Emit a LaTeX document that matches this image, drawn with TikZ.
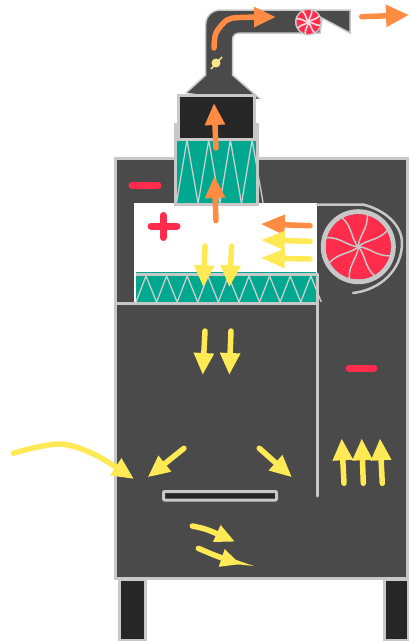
\documentclass[tikz,border=0pt]{standalone}
\usepackage{xcolor}
\usetikzlibrary{arrows.meta}
\definecolor{ovenbody}  {RGB}{ 74,  74,  74}
\definecolor{ovendark}  {RGB}{ 38,  38,  38}
\definecolor{ovenedge}  {RGB}{200, 200, 200}
\definecolor{filterteal}{RGB}{  0, 168, 143}
\definecolor{flowyellow}{RGB}{255, 233,  85}
\definecolor{floworange}{RGB}{255, 140,  66}
\definecolor{signred}   {RGB}{255,  45,  75}
\definecolor{damperpale}{RGB}{255, 229, 138}

%% blade wheel: centre x, centre y, radius, blade colour, blade width
\newcommand{\fanwheel}[5]{%
  \begin{scope}[shift={(#1,#2)},scale=#3]
    \fill[signred] (0,0) circle (1);
    \foreach \ang in {0,45,...,315}
      \draw[#4,line width=#5,rotate=\ang] (0,0) .. controls (0.35,0.02) and (0.55,0.3) .. (0.98,0.28);
  \end{scope}}

\begin{document}
\begin{tikzpicture}[
  x=1pt,y=-1pt,
  edge/.style={draw=ovenedge,line width=3pt},
  zig/.style={draw=ovenedge!90!white,line width=1.3pt},
  yarr/.style={-{Triangle[length=22pt,width=19pt]},line width=5.5pt,line cap=round,flowyellow},
  oarr/.style={-{Triangle[length=22pt,width=19pt]},line width=5.5pt,line cap=round,floworange},
  sign/.style={line width=7pt,line cap=round,signred},
]
\useasboundingbox (0,0) rectangle (409,641);

%% ── Legs ─────────────────────────────────────────────────────────────────
\draw[edge,fill=ovendark] (119,579) rectangle (145.5,640);
\draw[edge,fill=ovendark] (384,579) rectangle (408,640);

%% ── Cabinet ──────────────────────────────────────────────────────────────
\draw[edge,fill=ovenbody] (115,158.5) rectangle (407.5,578.5);

%% ── Chamber ──────────────────────────────────────────────────────────────
\fill[white] (134,203) rectangle (317,303);
\fill[filterteal] (136,272) rectangle (316,303);
\foreach \k in {0,...,8}
  \draw[zig] ({136+20.6*\k},302) -- ({146+20.6*\k},276) -- ({156.5+20.6*\k},302);
\draw[edge] (136,274) -- (318,274);
\draw[edge] (117,303.5) -- (317,303.5);
\draw[edge,line cap=round] (317,274) -- (317,496);

%% ── Upper filter ─────────────────────────────────────────────────────────
\fill[filterteal] (176,140) rectangle (257,203);
\foreach \k in {0,1,2,3}
  \draw[zig] ({176.5+21.7*\k},203) -- ({187+21.7*\k},140) -- ({198+21.7*\k},203);
\draw[edge] (175.5,123) -- (175.5,204.5) -- (257,204.5) -- (257,123);

%% ── Hood and duct ────────────────────────────────────────────────────────
\draw[draw=ovenedge,line width=1.5pt,fill=ovenbody]
  (186,93) -- (205.7,75) -- (205.7,25) .. controls (205.7,16) and (212,10) .. (221,10)
  -- (350,10) -- (350,33) -- (322,18) -- (320,33) -- (241,33)
  .. controls (235,33) and (232.5,35) .. (232.5,41) -- (232.5,75) -- (260,99);
\draw[edge,fill=ovendark] (178.5,95.5) rectangle (254.5,139);

%% ── Damper ───────────────────────────────────────────────────────────────
\draw[damperpale,line width=1.5pt] (211,69) -- (222,57);
\fill[damperpale] (216,63) circle (4.5);

%% ── Fans ─────────────────────────────────────────────────────────────────
\fill[ovenedge] (308.5,22) circle (13.5);
\fanwheel{308.5}{22}{12}{white!85!signred}{1.6pt}
\draw[ovenedge,line width=5pt] (358.3,246.7) circle (35);
\fanwheel{358.3}{246.7}{32.5}{ovenedge}{1.5pt}
\draw[ovenedge,line width=2.5pt,line cap=round]
  (317,204.5) -- (363,204.5) .. controls (385,210) and (402,225) .. (402,243)
  .. controls (402,270) and (380,290) .. (353,293);

%% ── Signs ────────────────────────────────────────────────────────────────
\draw[sign] (132,185.3) -- (158,185.3);
\draw[sign] (151,226) -- (177,226);
\draw[sign] (163,215.5) -- (163,237.5);
\draw[sign] (349,368) -- (374,368);

%% ── Exhaust flow ─────────────────────────────────────────────────────────
\draw[oarr] plot[smooth] coordinates {(214,48) (216,33) (227,20) (240,17.5) (276,17)};
\draw[oarr,-{Triangle[length=23pt,width=21pt]}] (361.7,16.7) -- (409,15);
\draw[oarr] (216,148) -- (214,103);
\draw[oarr] (216,220.7) -- (214.3,176);
\draw[oarr,-{Triangle[length=24pt,width=19pt]}] (310,225.7) -- (260.7,224);

%% ── Air inside the chamber ───────────────────────────────────────────────
\draw[yarr,-{Triangle[length=24pt,width=18pt]}] (310,241.3) -- (260.7,240);
\draw[yarr,-{Triangle[length=24pt,width=18pt]}] (310,259) -- (260.7,258);
\draw[yarr] (205,246) -- (203.3,287.3);
\draw[yarr] (231.7,246) -- (229.3,287.3);

%% ── Air in the lower part ────────────────────────────────────────────────
\draw[yarr] (205,331) -- (202.7,375);
\draw[yarr] (231,331) -- (229.3,375);
\draw[yarr] (184,448.3) -- (147.7,477.3);
\draw[yarr] (259.3,448.3) -- (292,477.3);
\draw[yarr] plot[smooth] coordinates {(13.3,453.3) (33,448) (56.7,444) (75,446.7) (100,457.3) (134,479)};
\draw[yarr] (344,483.3) -- (341.7,438.3);
\draw[yarr] (363.3,483.3) -- (361.7,438.3);
\draw[yarr] (382.3,483.3) -- (380,438.3);

%% ── Slot and air below it ────────────────────────────────────────────────
\draw[edge,fill=ovendark,rounded corners=1pt] (163.5,491.5) rectangle (276.5,500);
\draw[yarr,-{Triangle[length=20pt,width=17pt]}] plot[smooth] coordinates {(192.3,526) (208,530) (235,541.7)};
\draw[yarr,-{Triangle[length=20pt,width=17pt]}] plot[smooth] coordinates {(198.3,548.3) (216.7,556) (240.7,564.3)};

\end{tikzpicture}
\end{document}
